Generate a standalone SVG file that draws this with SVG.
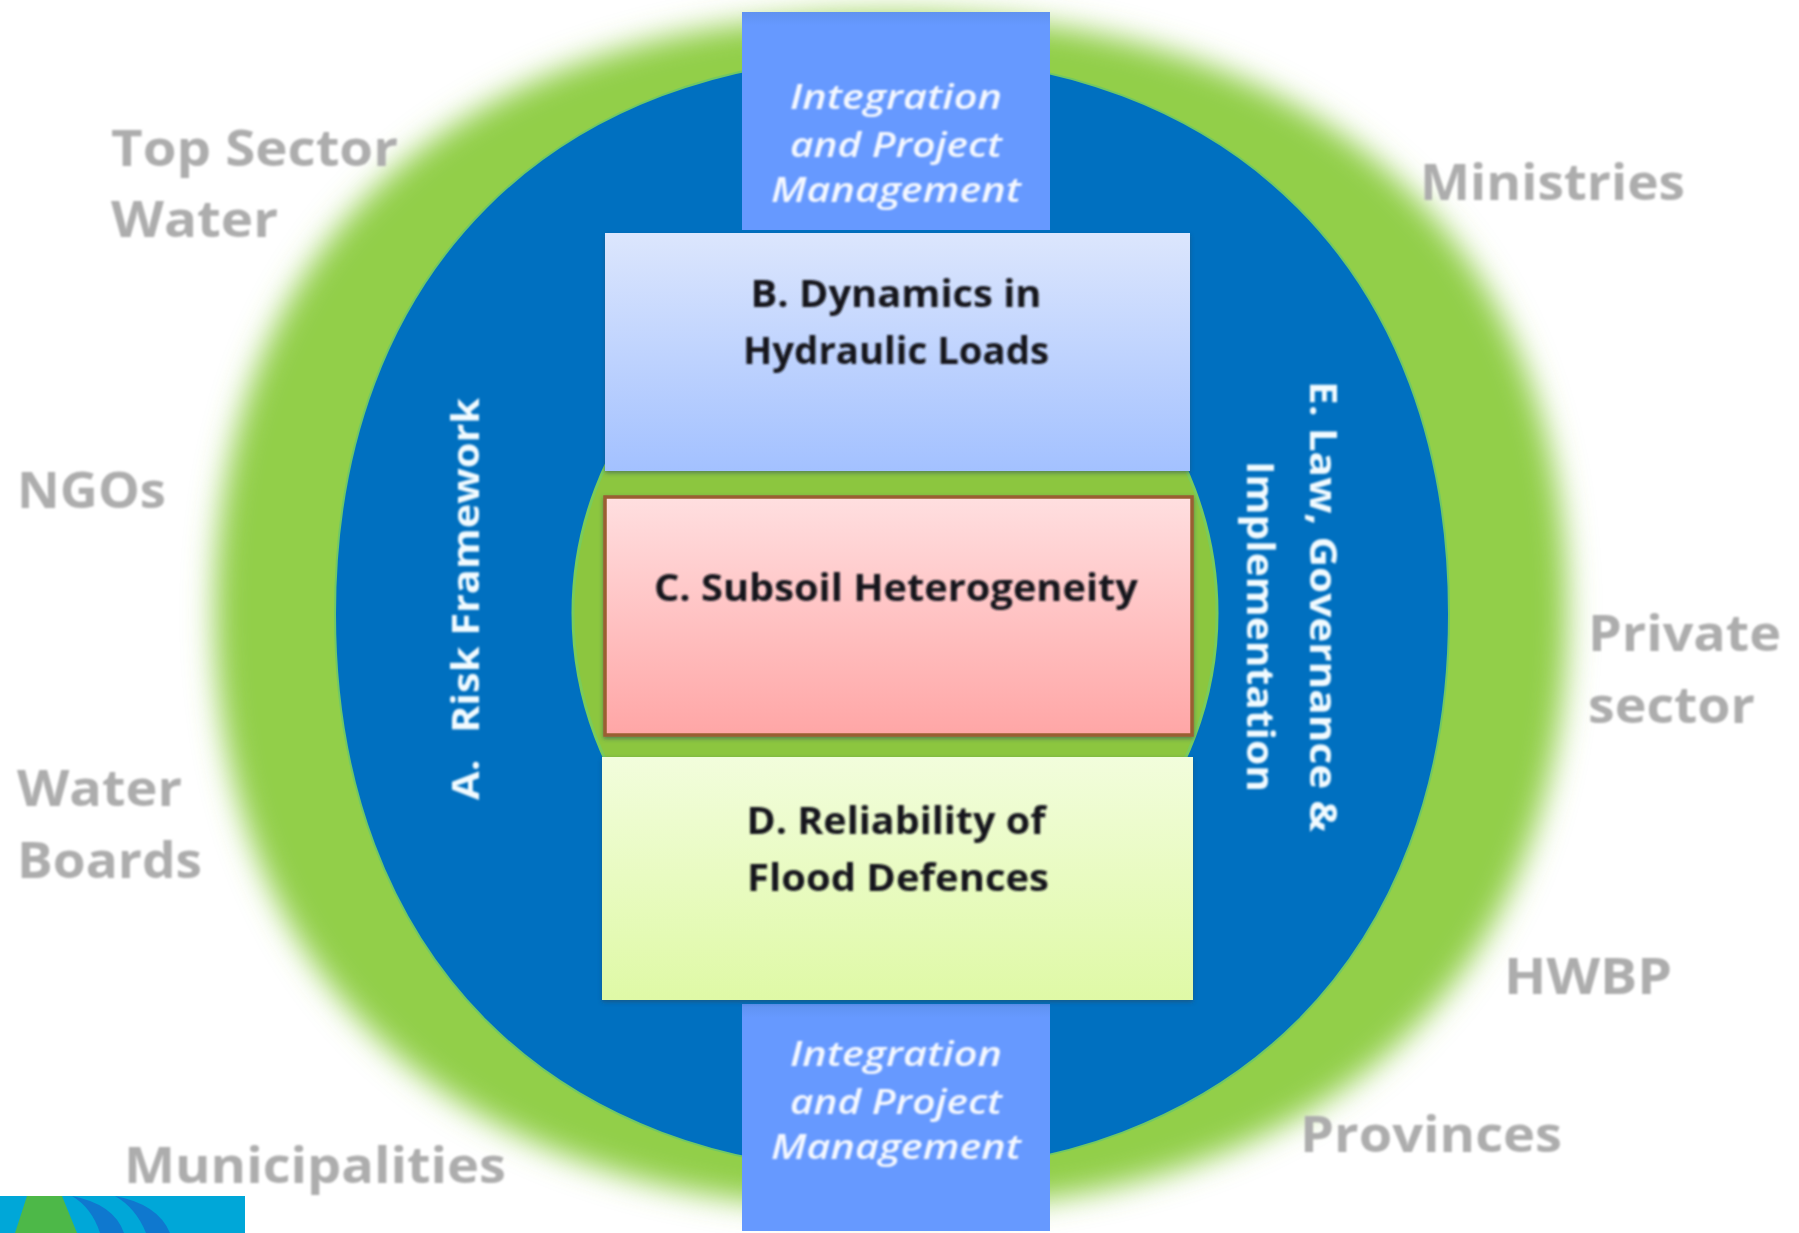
<svg xmlns="http://www.w3.org/2000/svg" width="1799" height="1233" viewBox="0 0 1799 1233">
<style>
.g{font-family:"Open Sans","Liberation Sans",sans-serif;font-weight:700;font-size:50px;fill:#adadad;filter:url(#soft)}
.i{font-family:"Open Sans","Liberation Sans",sans-serif;font-style:italic;font-weight:600;font-size:35px;fill:#f4f8ff;text-anchor:middle;filter:url(#soft)}
.b{font-family:"Open Sans","Liberation Sans",sans-serif;font-weight:700;font-size:37px;fill:#14161f;text-anchor:middle;filter:url(#soft)}
.w{font-family:"Open Sans","Liberation Sans",sans-serif;font-weight:700;font-size:37px;fill:#f2fbff;filter:url(#soft)}
.bar{fill:url(#gbar)}
</style>
<defs>
<filter id="soft" x="-10%" y="-30%" width="120%" height="160%"><feGaussianBlur stdDeviation="1"/></filter>
<filter id="halo" x="-10%" y="-10%" width="120%" height="120%"><feGaussianBlur stdDeviation="15"/></filter>
<filter id="edge" x="-5%" y="-5%" width="110%" height="112%"><feDropShadow dx="0" dy="2" stdDeviation="2" flood-color="#2a4a60" flood-opacity="0.55"/></filter>
<linearGradient id="gbar" x1="0" y1="0" x2="0" y2="1"><stop offset="0" stop-color="#5f92f0"/><stop offset="0.06" stop-color="#6699ff"/><stop offset="1" stop-color="#6699ff"/></linearGradient>
<linearGradient id="gb" x1="0" y1="0" x2="0" y2="1"><stop offset="0" stop-color="#dce6fd"/><stop offset="1" stop-color="#a3c1ff"/></linearGradient>
<linearGradient id="gc" x1="0" y1="0" x2="0" y2="1"><stop offset="0" stop-color="#ffdfe0"/><stop offset="1" stop-color="#ffa6a6"/></linearGradient>
<linearGradient id="gd" x1="0" y1="0" x2="0" y2="1"><stop offset="0" stop-color="#f2fddc"/><stop offset="1" stop-color="#dff9a6"/></linearGradient>
</defs>
<rect width="1799" height="1233" fill="#fff"/>
<g id="outer-ring"><path d="M891 14 C1317 14 1567 235 1567 612 C1567 989 1317 1210 891 1210 C465 1210 215 989 215 612 C215 235 465 14 891 14Z" fill="#92cf48" filter="url(#halo)"/></g>
<g id="blue-disc"><path d="M892 56 C1232 56 1449 274 1449 614 C1449 954 1232 1172 892 1172 C552 1172 335 954 335 614 C335 274 552 56 892 56Z" fill="#0070c0" stroke="#6fc866" stroke-width="2"/></g>
<g id="inner-ring"><ellipse cx="895" cy="613" rx="322" ry="336" fill="#8cc63f" stroke="#78cc5c" stroke-width="3"/></g>
<g id="integration-top">
<rect class="bar" x="742" y="12" width="308" height="218"/>
<text class="i" x="896" y="109" textLength="212" lengthAdjust="spacingAndGlyphs">Integration</text>
<text class="i" x="896" y="157" textLength="212" lengthAdjust="spacingAndGlyphs">and Project</text>
<text class="i" x="896" y="202" textLength="250" lengthAdjust="spacingAndGlyphs">Management</text>
</g>
<g id="integration-bottom">
<rect class="bar" x="742" y="1004" width="308" height="227"/>
<text class="i" x="896" y="1066" textLength="212" lengthAdjust="spacingAndGlyphs">Integration</text>
<text class="i" x="896" y="1114" textLength="212" lengthAdjust="spacingAndGlyphs">and Project</text>
<text class="i" x="896" y="1159" textLength="250" lengthAdjust="spacingAndGlyphs">Management</text>
</g>
<g id="box-b">
<rect x="605" y="233" width="585" height="238" fill="url(#gb)" filter="url(#edge)"/>
<text class="b" x="896" y="307" textLength="291" lengthAdjust="spacingAndGlyphs">B. Dynamics in</text>
<text class="b" x="896" y="364" textLength="306" lengthAdjust="spacingAndGlyphs">Hydraulic Loads</text>
</g>
<g id="box-c">
<rect x="605" y="497" width="587" height="238" fill="url(#gc)" stroke="#9a5f30" stroke-width="3.5" filter="url(#edge)"/>
<text class="b" x="896" y="601" textLength="484" lengthAdjust="spacingAndGlyphs">C. Subsoil Heterogeneity</text>
</g>
<g id="box-d">
<rect x="602" y="757" width="591" height="243" fill="url(#gd)" filter="url(#edge)"/>
<text class="b" x="896" y="834" textLength="299" lengthAdjust="spacingAndGlyphs">D. Reliability of</text>
<text class="b" x="898" y="891" textLength="302" lengthAdjust="spacingAndGlyphs">Flood Defences</text>
</g>
<g id="label-a"><text class="w" transform="translate(479 800) rotate(-90)" textLength="402" lengthAdjust="spacingAndGlyphs">A.<tspan dx="14"> Risk Framework</tspan></text></g>
<g id="label-e">
<text class="w" transform="translate(1310 381) rotate(90)" textLength="451" lengthAdjust="spacingAndGlyphs">E. Law, Governance &amp;</text>
<text class="w" transform="translate(1247 461) rotate(90)" textLength="331" lengthAdjust="spacingAndGlyphs">Implementation</text>
</g>
<g id="stakeholders">
<text class="g" x="111" y="166" textLength="287" lengthAdjust="spacingAndGlyphs">Top Sector</text>
<text class="g" x="111" y="237" textLength="167" lengthAdjust="spacingAndGlyphs">Water</text>
<text class="g" x="1420" y="200" textLength="265" lengthAdjust="spacingAndGlyphs">Ministries</text>
<text class="g" x="17" y="508" textLength="149" lengthAdjust="spacingAndGlyphs">NGOs</text>
<text class="g" x="1588" y="651" textLength="193" lengthAdjust="spacingAndGlyphs">Private</text>
<text class="g" x="1588" y="723" textLength="167" lengthAdjust="spacingAndGlyphs">sector</text>
<text class="g" x="17" y="806" textLength="165" lengthAdjust="spacingAndGlyphs">Water</text>
<text class="g" x="17" y="878" textLength="185" lengthAdjust="spacingAndGlyphs">Boards</text>
<text class="g" x="1504" y="994" textLength="168" lengthAdjust="spacingAndGlyphs">HWBP</text>
<text class="g" x="1300" y="1152" textLength="262" lengthAdjust="spacingAndGlyphs">Provinces</text>
<text class="g" x="124" y="1183" textLength="382" lengthAdjust="spacingAndGlyphs">Municipalities</text>
</g>
<g id="logo">
<rect x="0" y="1196" width="245" height="37" fill="#00a7d8"/>
<polygon points="27,1196 62,1196 77,1233 15,1233" fill="#4db848"/>
<path d="M72 1196 Q114 1204 124 1233 L100 1233 Q92 1208 72 1196Z" fill="#0f78cf"/>
<path d="M115 1196 Q158 1204 170 1233 L146 1233 Q136 1208 115 1196Z" fill="#0f78cf"/>
</g>
</svg>
